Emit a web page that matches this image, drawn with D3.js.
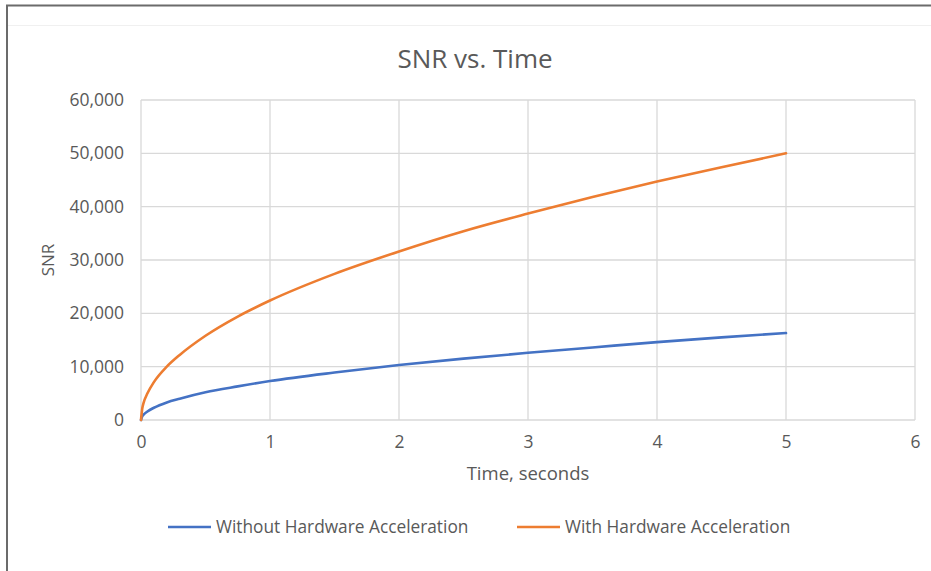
<!DOCTYPE html>
<html><head><meta charset="utf-8">
<script src="https://cdn.jsdelivr.net/npm/d3@7"></script>
<style>body{margin:0;background:#fff}svg{display:block}text{font-family:"Open Sans",sans-serif}</style>
</head><body><svg id="c" width="931" height="571"></svg>
<script>
const title = "SNR vs. Time";
const xTitle = "Time, seconds";
const yTitle = "SNR";
const seriesNames = ["Without Hardware Acceleration", "With Hardware Acceleration"];
const seriesColors = ["#4472c4", "#ed7d31"];
const times = [0, 0.01, 0.02, 0.05, 0.1, 0.2, 0.3, 0.5, 0.75, 1, 1.5, 2, 2.5, 3, 3.5, 4, 4.5, 5];
const withoutHW = [0, 700, 1000, 1600, 2300, 3300, 4000, 5200, 6300, 7300, 8900, 10300, 11500, 12600, 13600, 14600, 15500, 16300];
const withHW = [0, 2200, 3200, 5000, 7100, 10000, 12200, 15800, 19400, 22400, 27400, 31600, 35400, 38700, 41800, 44700, 47400, 50000];
const xTicks = [0, 1, 2, 3, 4, 5, 6];
const yTicks = [0, 10000, 20000, 30000, 40000, 50000, 60000];

const svg = d3.select("#c");
// outer frame
svg.append("line").attr("x1",6).attr("x2",931).attr("y1",5.5).attr("y2",5.5).attr("stroke","#6b6b6b").attr("stroke-width",2);
svg.append("line").attr("x1",7).attr("x2",7).attr("y1",5).attr("y2",571).attr("stroke","#6b6b6b").attr("stroke-width",2);
svg.append("line").attr("x1",8).attr("x2",931).attr("y1",25.5).attr("y2",25.5).attr("stroke","#f0f0f0").attr("stroke-width",1);

const x = d3.scaleLinear().domain([0,6]).range([141,915]);
const y = d3.scaleLinear().domain([0,60000]).range([420,100]);

const grid = svg.append("g");
xTicks.forEach(t=>{
  grid.append("line").attr("x1",x(t)).attr("x2",x(t)).attr("y1",y(60000)).attr("y2",y(0)).attr("stroke","#d9d9d9").attr("stroke-width",1.3);
});
yTicks.forEach(t=>{
  grid.append("line").attr("x1",x(0)).attr("x2",x(6)).attr("y1",y(t)).attr("y2",y(t)).attr("stroke","#d9d9d9").attr("stroke-width",1.3);
});

const yAxis = svg.append("g").attr("transform",`translate(${x(0)},0)`)
  .call(d3.axisLeft(y).tickValues(yTicks).tickFormat(d3.format(",")).tickSize(0).tickPadding(17));
yAxis.select(".domain").remove();
yAxis.selectAll("text").attr("fill","#595959").style("font-size","17.5px").style("font-family","'Open Sans',sans-serif");

const xAxis = svg.append("g").attr("transform",`translate(0,${y(0)})`)
  .call(d3.axisBottom(x).tickValues(xTicks).tickFormat(d3.format("d")).tickSize(0).tickPadding(16));
xAxis.select(".domain").remove();
xAxis.selectAll("text").attr("fill","#595959").style("font-size","17.5px").style("font-family","'Open Sans',sans-serif");

const line = d3.line().x((d,i)=>x(times[i])).y(d=>y(d)).curve(d3.curveMonotoneX);
[withoutHW, withHW].forEach((s,k)=>{
  svg.append("path").attr("d",line(s)).attr("fill","none").attr("stroke",seriesColors[k]).attr("stroke-width",2.6).attr("stroke-linecap","round");
});

svg.append("text").attr("x",475).attr("y",68).attr("text-anchor","middle").attr("fill","#595959").style("font-size","26px").text(title);
svg.append("text").attr("x",528).attr("y",480).attr("text-anchor","middle").attr("fill","#595959").style("font-size","18.5px").text(xTitle);
svg.append("text").attr("transform","translate(54,260) rotate(-90)").attr("text-anchor","middle").attr("fill","#595959").style("font-size","17px").text(yTitle);

const legX = [168, 517];
seriesNames.forEach((n,k)=>{
  const g = svg.append("g").attr("transform",`translate(${legX[k]},527)`);
  g.append("line").attr("x1",0).attr("x2",43).attr("y1",0).attr("y2",0).attr("stroke",seriesColors[k]).attr("stroke-width",2.6);
  g.append("text").attr("x",48).attr("y",6).attr("fill","#595959").style("font-size","17.3px").text(n);
});
</script></body></html>
